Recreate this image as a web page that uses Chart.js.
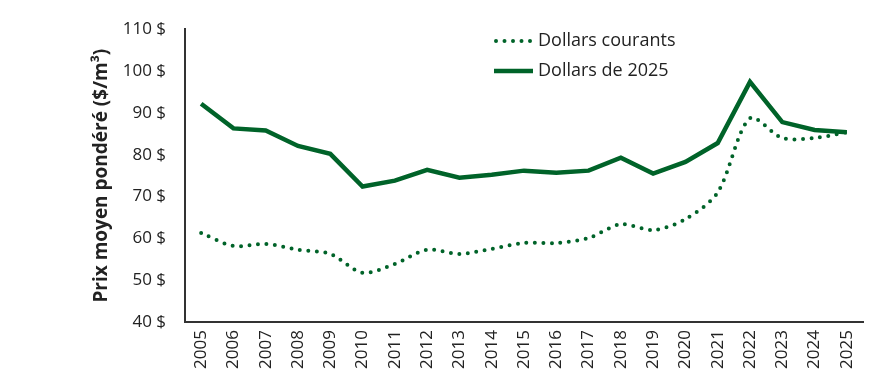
<!DOCTYPE html>
<html>
<head>
<meta charset="utf-8">
<script src="https://cdn.jsdelivr.net/npm/chart.js@4"></script>
<style>
  html, body { margin: 0; padding: 0; background: #fff; }
  #wrap { width: 888px; height: 385px; position: relative; }
</style>
</head>
<body>
<div id="wrap"><canvas id="prixChart"></canvas></div>
<script>
const annees = ['2005','2006','2007','2008','2009','2010','2011','2012','2013','2014','2015',
                '2016','2017','2018','2019','2020','2021','2022','2023','2024','2025'];
const dollarsCourants = [61.3, 58.2, 58.7, 57.3, 56.3, 51.8, 53.9, 57.3, 56.3, 57.5, 58.9,
                         58.9, 60.1, 63.4, 62.0, 64.6, 71.0, 88.7, 84.0, 84.0, 85.4];
const dollars2025 = [92.2, 86.3, 85.8, 82.1, 80.2, 72.4, 73.8, 76.4, 74.5, 75.2, 76.2,
                     75.7, 76.2, 79.3, 75.5, 78.3, 82.8, 97.4, 87.8, 85.9, 85.4];
const yTicks = [40, 50, 60, 70, 80, 90, 100, 110];

const vert = '#006329';
const police = "'Open Sans', sans-serif";

// legende dessinee a la main, en haut au centre du graphique
const legendeMaison = {
    id: 'legendeMaison',
    afterDraw(chart) {
        const c = chart.ctx;
        const x0 = 496, x1 = 533;
        const lignes = [41, 71];
        c.save();
        chart.data.datasets.forEach((ds, i) => {
            const y = lignes[i];
            c.strokeStyle = ds.borderColor;
            c.lineWidth = ds.borderWidth;
            c.lineCap = ds.borderCapStyle;
            c.setLineDash(ds.borderDash || []);
            c.beginPath();
            c.moveTo(x0 + (ds.borderDash ? 0 : -2), y);
            c.lineTo(x1, y);
            c.stroke();
            c.setLineDash([]);
            c.fillStyle = '#222';
            c.font = "18px " + police;
            c.textBaseline = 'middle';
            c.fillText(ds.label, x1 + 5, y);
        });
        c.restore();
    }
};

new Chart(document.getElementById('prixChart'), {
    type: 'line',
    data: {
        labels: annees,
        datasets: [{
            label: 'Dollars courants',
            data: dollarsCourants,
            borderColor: vert,
            borderWidth: 4,
            borderDash: [0, 8.5],
            borderCapStyle: 'round',
            pointRadius: 0,
            tension: 0.3
        }, {
            label: 'Dollars de 2025',
            data: dollars2025,
            borderColor: vert,
            borderWidth: 4.5,
            borderCapStyle: 'butt',
            pointRadius: 0,
            tension: 0
        }]
    },
    options: {
        responsive: true,
        maintainAspectRatio: false,
        animation: false,
        layout: { padding: { top: 18, right: 25, left: 90, bottom: 8 } },
        plugins: {
            legend: { display: false },
            tooltip: { enabled: false }
        },
        scales: {
            x: {
                offset: true,
                grid: { display: false, drawTicks: false },
                border: { color: '#333', width: 2 },
                ticks: {
                    minRotation: 90, maxRotation: 90,
                    color: '#222', padding: 8,
                    font: { family: police, size: 17 }
                }
            },
            y: {
                min: 40, max: 110,
                afterBuildTicks(s) { s.ticks = yTicks.map(v => ({ value: v })); },
                afterFit(s) { s.width = 95; },
                grid: { display: false, drawTicks: false },
                border: { color: '#333', width: 2 },
                ticks: {
                    color: '#222', padding: 19,
                    font: { family: police, size: 17 },
                    callback: v => v + ' $'
                },
                title: {
                    display: true,
                    text: 'Prix moyen pondéré ($/m³)',
                    color: '#222',
                    padding: { top: 0, bottom: 0 },
                    font: { family: police, size: 19, weight: 'bold' }
                }
            }
        }
    },
    plugins: [legendeMaison]
});
</script>
</body>
</html>
